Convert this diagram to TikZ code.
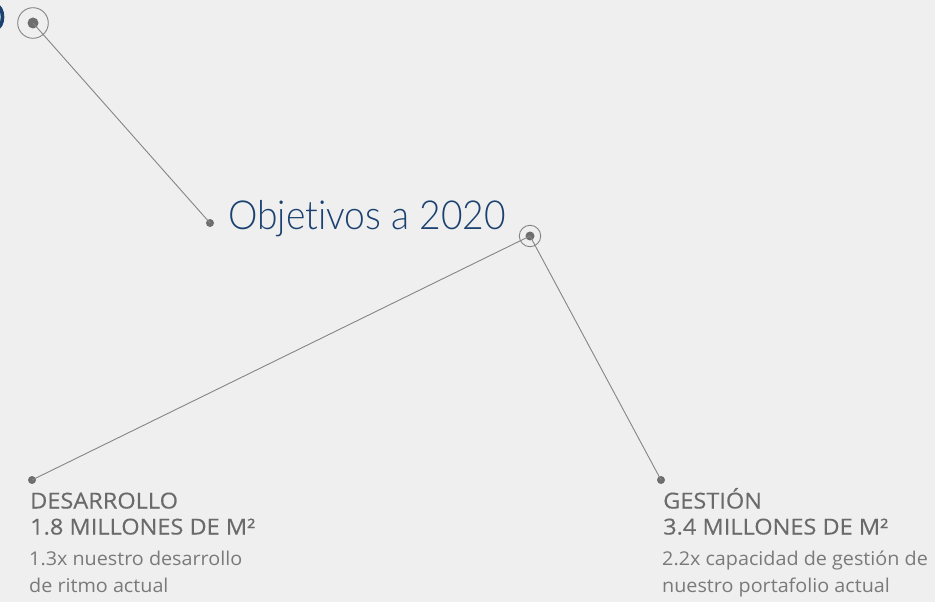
\documentclass[tikz,border=0pt]{standalone}
\usepackage{fontspec}
\setmainfont{Open Sans}
\newfontfamily\headfont[FakeStretch=1.07,FakeBold=0.3]{Open Sans}
\newfontfamily\bodyfont[FakeStretch=1.04]{Open Sans}
\newfontfamily\titlefont[UprightFont={* Light},Ligatures=NoCommon,FakeStretch=0.93]{Lato}
\definecolor{bg}{HTML}{EFEFEF}
\definecolor{navy}{HTML}{1B4170}
\definecolor{linegray}{HTML}{858585}
\definecolor{dotgray}{HTML}{6E6E6E}
\definecolor{headgray}{HTML}{6A6A6A}
\definecolor{bodygray}{HTML}{7A7A7A}
\begin{document}
\begin{tikzpicture}[x=1pt,y=-1pt,
  conn/.style={draw=linegray,line width=0.9pt},
  ring/.style={draw=linegray,line width=0.9pt,fill=none},
  dotnode/.style={circle,fill=dotgray,inner sep=0pt,minimum size=8pt},
  bigdot/.style={circle,fill=dotgray,inner sep=0pt,minimum size=11pt},
  midot/.style={circle,fill=dotgray,inner sep=0pt,minimum size=9pt},
  head/.style={anchor=base west,inner sep=0pt,text=headgray,font=\headfont\fontsize{22}{24}\selectfont},
  body/.style={anchor=base west,inner sep=0pt,text=bodygray,font=\bodyfont\fontsize{19}{21}\selectfont}]
\fill[bg] (0,0) rectangle (935,602);
\useasboundingbox (0,0) rectangle (935,602);
\begin{scope}
\clip (0,0) rectangle (935,602);
\draw[navy,line width=3.6pt] (-4,17) ellipse [x radius=6.5, y radius=11.5];
\end{scope}
% nodes
\node[bigdot] (top) at (33,23) {};
\node[dotnode] (tl) at (210,223) {};
\node[midot] (mid) at (530,236) {};
\node[dotnode] (left) at (32,480) {};
\node[dotnode] (right) at (661,480) {};
\draw[ring] (top.center) circle (15.3);
\draw[ring] (mid.center) circle (10.7);
% connectors
\draw[conn] (top.center) -- (tl.center);
\draw[conn] (mid.center) -- (left.center);
\draw[conn] (mid.center) -- (right.center);
% title
\node[anchor=base west,inner sep=0pt,text=navy,font=\titlefont\fontsize{40}{44}\selectfont] (title) at (228,229) {Objetivos a 2020};
% left text
\node[head] (lh1) at (30,508.5) {DESARROLLO};
\node[head] (lh2) at (30,534.5) {1.8 MILLONES DE M²};
\node[body] (lb1) at (29,565) {1.3x nuestro desarrollo};
\node[body] (lb2) at (29,592) {de ritmo actual};
% right text
\node[head] (rh1) at (663,508.5) {GESTIÓN};
\node[head] (rh2) at (663,534.5) {3.4 MILLONES DE M²};
\node[body] (rb1) at (662,565) {2.2x capacidad de gestión de};
\node[body] (rb2) at (662,592) {nuestro portafolio actual};
\end{tikzpicture}
\end{document}
